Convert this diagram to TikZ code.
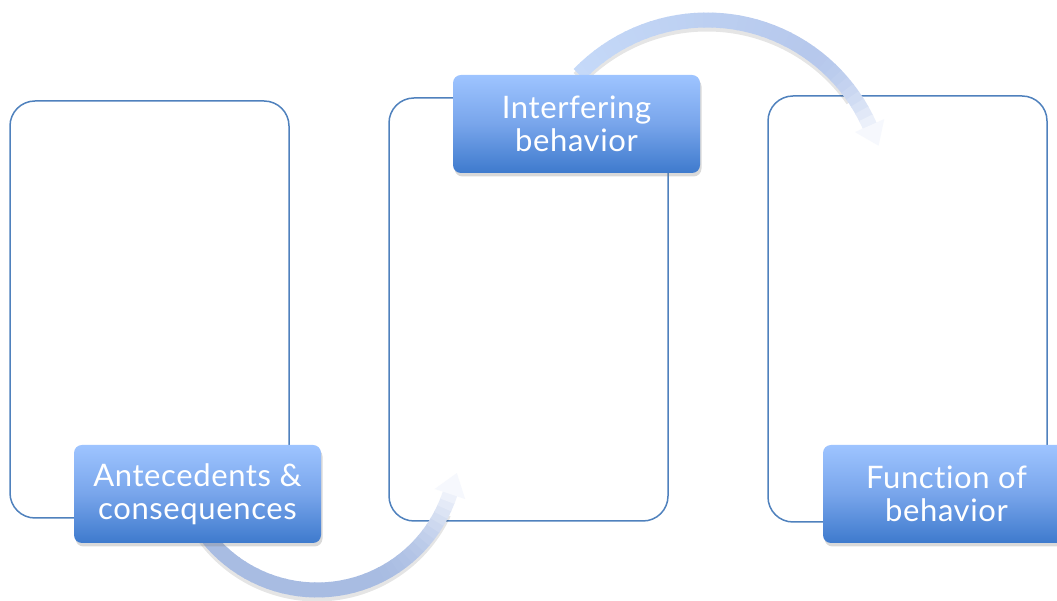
\documentclass[tikz,border=0pt]{standalone}
\usepackage{fontspec}
\setmainfont{Lato}[Ligatures={NoCommon,NoRare,NoContextual}, LetterSpace=2]
\usetikzlibrary{calc,shadows}
\definecolor{boxline}{RGB}{79,129,189}
\definecolor{labtop}{RGB}{158,196,255}
\definecolor{labmid}{RGB}{120,165,235}
\definecolor{labbot}{RGB}{62,122,205}
\definecolor{arcdark}{RGB}{168,188,226}
\definecolor{arctopA}{RGB}{197,217,248}
\definecolor{arctopB}{RGB}{182,200,236}
\definecolor{arclight}{RGB}{246,248,253}
\tikzset{
  bigbox/.style={draw=boxline, line width=1.5pt, rounded corners=25pt, fill=white, inner sep=0pt},
  labelbox/.style={rounded corners=8pt, top color=labtop, bottom color=labbot, middle color=labmid,
    text=white, font=\fontsize{31}{33.5}\selectfont, align=center,
    minimum width=247pt, minimum height=98pt, inner sep=0pt,
    drop shadow={opacity=0.3, shadow xshift=1.5pt, shadow yshift=-3.5pt}},
  arcshadow/.style={line width=15pt, black, opacity=0.10},
}
\begin{document}
\begin{tikzpicture}[x=1pt,y=1pt]
\useasboundingbox (0,0) rectangle (1057,601);
\clip (0,0) rectangle (1057,601);
% big boxes
\node[bigbox, minimum width=279pt, minimum height=417pt] (b1) at (149.5,291.5) {};
\node[bigbox, minimum width=279pt, minimum height=423pt] (b2) at (528.5,291.5) {};
\node[bigbox, minimum width=279pt, minimum height=426pt] (b3) at (907.5,292) {};
% arc centres
\coordinate (c1) at (317,151);
\coordinate (c2) at (707,403);
% shadows of arcs
\draw[arcshadow] ($(c1)+(0,-4)+(215:140)$) arc[start angle=215, end angle=335, radius=140];
\draw[arcshadow] ($(c2)+(0,-4)+(136:178)$) arc[start angle=136, end angle=35, radius=178];
% bottom arc (gradient)
\foreach \i in {0,...,39}{
  \pgfmathsetmacro\a{215+\i*126.7/40}
  \pgfmathsetmacro\b{\a+126.7/40+0.4}
  \pgfmathsetmacro\t{\i/40}
  \pgfmathsetmacro\p{100*(max(0,(\t-0.6)/0.4))^2}
  \colorlet{cc}{arclight!\p!arcdark}
  \draw[line width=15pt, cc] ($(c1)+(\a:140)$) arc[start angle=\a, end angle=\b, radius=140];
}
\fill[arclight] ($(c1)+(341.7:156)$) -- ($(c1)+(341.7:124)$) -- ($(c1)+(341.7:140)+(71.7:22)$) -- cycle;
% top arc (gradient)
\foreach \i in {0,...,39}{
  \pgfmathsetmacro\a{136-\i*112/40}
  \pgfmathsetmacro\b{\a-112/40-0.4}
  \pgfmathsetmacro\t{\i/40}
  \pgfmathsetmacro\q{100*min(1,\t/0.7)}
  \pgfmathsetmacro\p{100*(max(0,(\t-0.72)/0.28))^2}
  \colorlet{cb}{arctopB!\q!arctopA}
  \colorlet{cc}{arclight!\p!cb}
  \draw[line width=15pt, cc] ($(c2)+(\a:178)$) arc[start angle=\a, end angle=\b, radius=178];
}
\fill[arclight] ($(c2)+(24:194)$) -- ($(c2)+(24:162)$) -- ($(c2)+(24:178)+(-66:22)$) -- cycle;
% labels
\node[labelbox] (l1) at (197.5,107) {Antecedents \&\\consequences};
\node[labelbox] (l2) at (576.5,477) {Interfering\\behavior};
\node[labelbox] (l3) at (946.5,107) {Function of\\behavior};
\end{tikzpicture}
\end{document}
